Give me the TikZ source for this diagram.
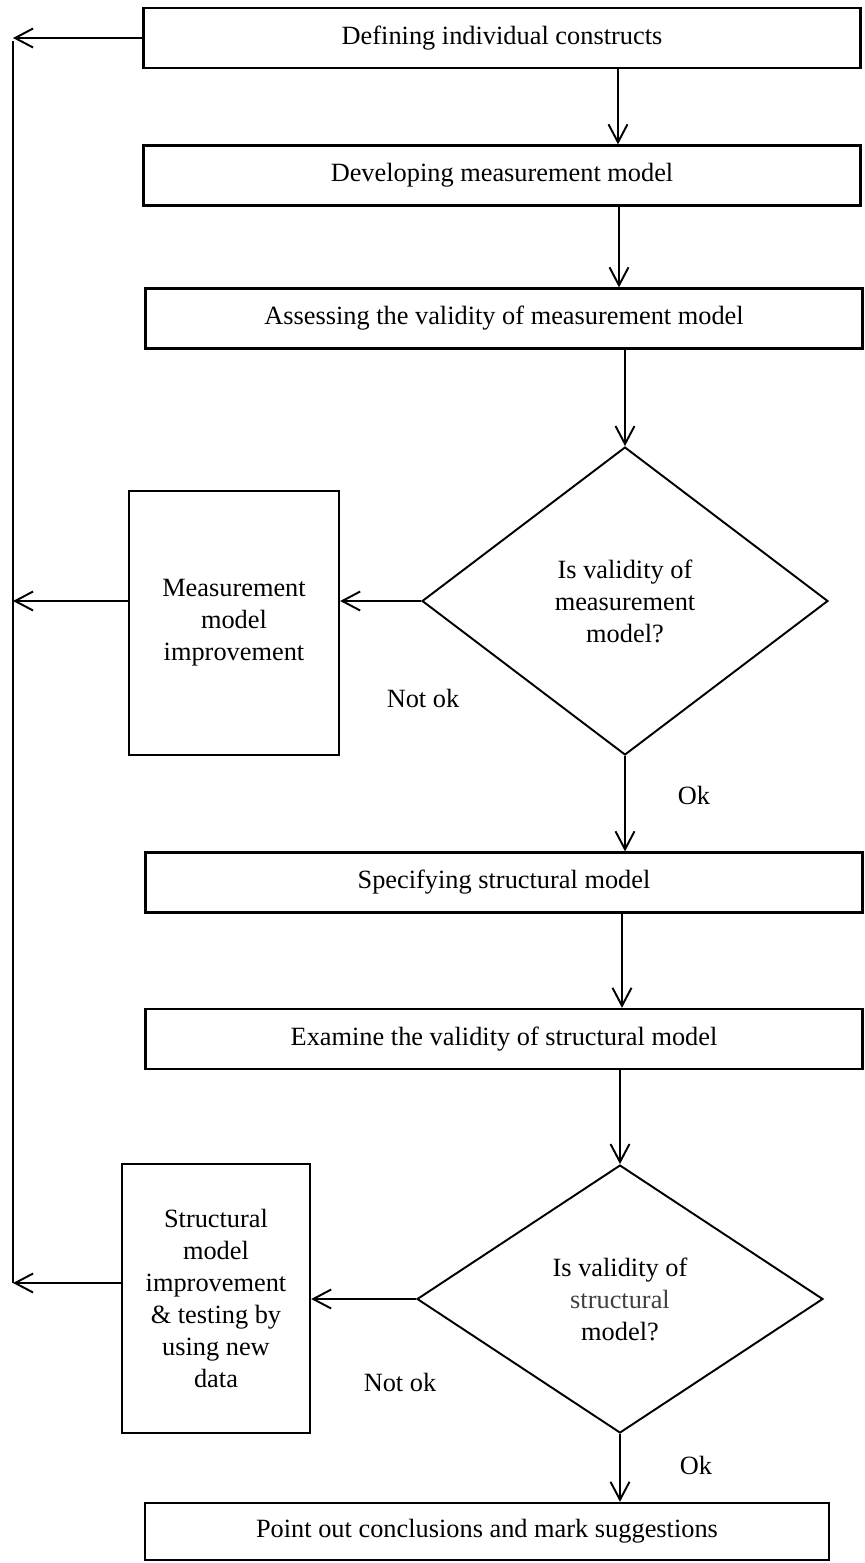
\documentclass[tikz,border=0pt]{standalone}
\usepackage{fontspec}
\setmainfont{Liberation Serif}
\usepackage{tikz}
\usetikzlibrary{arrows.meta,shapes.geometric}

\definecolor{softgrey}{HTML}{404040}

\begin{document}
\begin{tikzpicture}[x=0.02cm,y=-0.02cm,>={Straight Barb[length=3.6mm,width=3.8mm]},
        font=\fontsize{15}{18.2}\selectfont,
        stepbox/.style={draw,line width=1.3pt,minimum width=14.34cm,minimum height=1.2cm,inner sep=0pt},
        sidebox/.style={draw,line width=1.3pt,align=center,inner sep=0pt},
        decision/.style={draw,diamond,line width=1.1pt,align=center,inner sep=0pt,minimum width=8.12cm},
        flow/.style={->,line width=1.1pt}]
        \useasboundingbox (0,0) rectangle (865,1563);

        \node[stepbox] (define) at (502,38) {Defining individual constructs};
        \node[stepbox] (develop) at (502,175.5) {Developing measurement model};
        \node[stepbox] (assess) at (504,318.5) {Assessing the validity of measurement model};
        \node[decision, minimum height=6.16cm] (d1) at (625,601) {Is validity of\\measurement\\model?};
        \node[sidebox, minimum width=4.2cm, minimum height=5.28cm] (mimprove) at (234,623) {Measurement\\model\\improvement};
        \node[stepbox] (specify) at (504,882.5) {Specifying structural model};
        \node[stepbox] (examine) at (504,1039) {Examine the validity of structural model};
        \node[decision, minimum height=5.36cm] (d2) at (620,1299) {Is validity of\\\textcolor{softgrey}{structural}\\model?};
        \node[sidebox, minimum width=3.76cm, minimum height=5.38cm] (simprove) at (216,1298.5) {Structural\\model\\improvement\\\& testing by\\using new\\data};
        \node[stepbox, minimum width=13.68cm, minimum height=1.14cm] (conclude) at (487,1531.5) {Point out conclusions and mark suggestions};

        \node (notok1) at (423,698) {Not ok};
        \node (ok1) at (694,795) {Ok};
        \node (notok2) at (400,1382) {Not ok};
        \node (ok2) at (696,1465) {Ok};

        \coordinate (back1) at (13,41);
        \coordinate (back3) at (13,1283);

        \draw[flow] (define.south -| 618,0) -- (develop.north -| 618,0);
        \draw[flow] (develop.south -| 619,0) -- (assess.north -| 619,0);
        \draw[flow] (assess.south -| d1.north) -- (d1.north);
        \draw[flow] (d1.south) -- (specify.north -| d1.south);
        \draw[flow] (specify.south -| 622,0) -- (examine.north -| 622,0);
        \draw[flow] (examine.south -| d2.north) -- (d2.north);
        \draw[flow] (d2.south) -- (conclude.north -| d2.south);

        \draw[flow] (d1.west) -- (d1.west -| mimprove.east);
        \draw[flow] (d2.west) -- (d2.west -| simprove.east);

        \draw[line width=1.1pt] (back1) -- (back3);
        \draw[flow] (define.west) -- (define.west -| back1);
        \draw[flow] (d1.west -| mimprove.west) -- (d1.west -| back1);
        \draw[flow] (back3 -| simprove.west) -- (back3);
\end{tikzpicture}
\end{document}
